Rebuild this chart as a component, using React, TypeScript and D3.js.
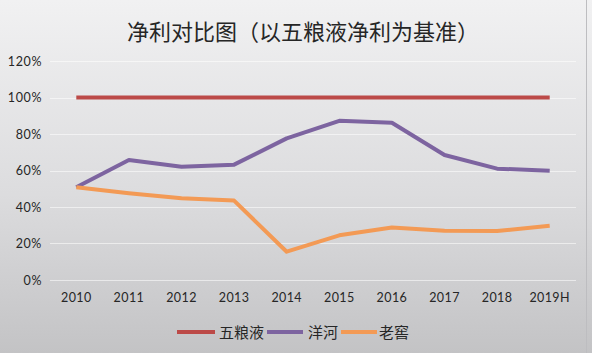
import { useRef, useEffect } from 'react';
import * as d3 from 'd3';

const W = 592;
const H = 353;

const years = ['2010', '2011', '2012', '2013', '2014', '2015', '2016', '2017', '2018', '2019H'];
const wuliangye = [1, 1, 1, 1, 1, 1, 1, 1, 1, 1];
const yanghe = [0.508, 0.657, 0.62, 0.632, 0.776, 0.872, 0.862, 0.685, 0.61, 0.599];
const laojiao = [0.508, 0.475, 0.448, 0.435, 0.155, 0.245, 0.288, 0.27, 0.268, 0.297];
const yTicks = [0, 0.2, 0.4, 0.6, 0.8, 1.0, 1.2];

const seriesNames = ['五粮液', '洋河', '老窖'];
const seriesColors = ['#BC4A48', '#7D64A0', '#F39A55'];

const CJK = '"Noto Sans CJK SC", "Noto Sans", sans-serif';
const LATIN = 'Lato, "Open Sans", "Liberation Sans", sans-serif';

export default function App() {
  const svgRef = useRef<SVGSVGElement | null>(null);

  useEffect(() => {
    document.body.style.margin = '0';
    const svg = d3.select(svgRef.current);
    svg.selectAll('*').remove();

    // background gradient
    const defs = svg.append('defs');
    const grad = defs.append('linearGradient')
      .attr('id', 'bg').attr('x1', 0).attr('y1', 0).attr('x2', 0).attr('y2', 1);
    grad.append('stop').attr('offset', '0%').attr('stop-color', '#f1f1f2');
    grad.append('stop').attr('offset', '55%').attr('stop-color', '#dcdcde');
    grad.append('stop').attr('offset', '100%').attr('stop-color', '#c3c3c5');
    svg.append('rect').attr('width', W).attr('height', H).attr('fill', 'url(#bg)');
    svg.append('line')
      .attr('x1', 586.5).attr('x2', 586.5).attr('y1', 0).attr('y2', H)
      .attr('stroke', '#bdbdc0').attr('stroke-width', 1);

    const x = d3.scalePoint<string>().domain(years).range([50, 576]).padding(0.5);
    const y = d3.scaleLinear().domain([0, 1.2]).range([280, 61]);

    // title
    svg.append('text')
      .attr('x', 303).attr('y', 40)
      .attr('text-anchor', 'middle')
      .attr('font-family', CJK)
      .attr('font-size', 22)
      .attr('fill', '#262626')
      .text('净利对比图（以五粮液净利为基准）');

    // grid lines
    svg.append('g').selectAll('line')
      .data(yTicks)
      .join('line')
      .attr('x1', 50).attr('x2', 576)
      .attr('y1', d => Math.round(y(d)) + 0.5)
      .attr('y2', d => Math.round(y(d)) + 0.5)
      .attr('stroke', '#ffffff')
      .attr('stroke-opacity', 0.55)
      .attr('stroke-width', 1);

    // y-axis labels
    svg.append('g').selectAll('text')
      .data(yTicks)
      .join('text')
      .attr('x', 42)
      .attr('y', d => y(d) + 4.5)
      .attr('text-anchor', 'end')
      .attr('font-family', LATIN)
      .attr('font-size', 12.5)
      .attr('letter-spacing', 0.6)
      .attr('fill', '#262626')
      .text(d => d3.format('.0%')(d));

    // x-axis labels
    svg.append('g').selectAll('text')
      .data(years)
      .join('text')
      .attr('x', d => x(d) as number)
      .attr('y', 302)
      .attr('text-anchor', 'middle')
      .attr('font-family', LATIN)
      .attr('font-size', 12.5)
      .attr('letter-spacing', 0.4)
      .attr('fill', '#262626')
      .text(d => d);

    const line = d3.line<number>()
      .x((_, i) => x(years[i]) as number)
      .y(d => y(d));

    const all = [wuliangye, yanghe, laojiao];
    // draw order: red, purple, orange
    all.forEach((vals, i) => {
      svg.append('path')
        .datum(vals)
        .attr('d', line)
        .attr('fill', 'none')
        .attr('stroke', seriesColors[i])
        .attr('stroke-width', 4)
        .attr('stroke-linejoin', 'round');
    });

    // legend
    const legendItems = [
      { x1: 177, x2: 215, tx: 219 },
      { x1: 267, x2: 303, tx: 308 },
      { x1: 341, x2: 377, tx: 379 },
    ];
    const lg = svg.append('g');
    legendItems.forEach((it, i) => {
      lg.append('line')
        .attr('x1', it.x1).attr('x2', it.x2)
        .attr('y1', 332).attr('y2', 332)
        .attr('stroke', seriesColors[i])
        .attr('stroke-width', 4);
      lg.append('text')
        .attr('x', it.tx).attr('y', 337.5)
        .attr('font-family', CJK)
        .attr('font-size', 15)
        .attr('fill', '#262626')
        .text(seriesNames[i]);
    });
  }, []);

  return (
    <svg
      ref={svgRef}
      width={W}
      height={H}
      style={{ display: 'block', position: 'absolute', left: 0, top: 0 }}
    />
  );
}
